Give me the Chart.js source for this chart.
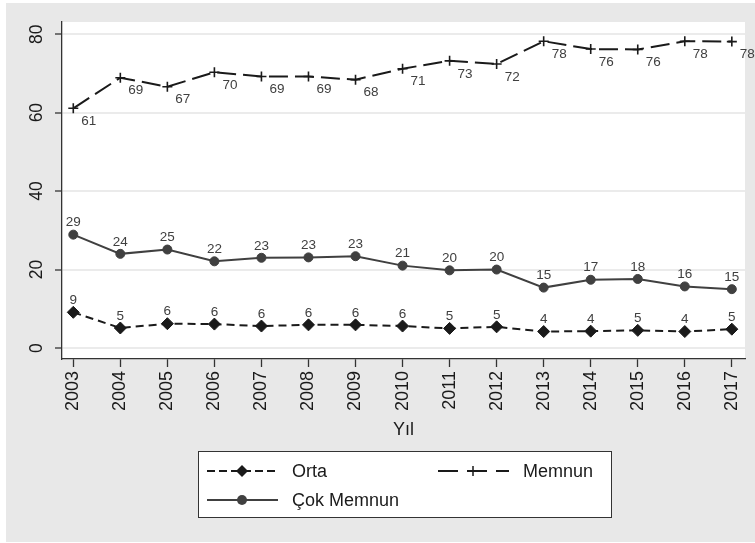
<!DOCTYPE html>
<html>
<head>
<meta charset="utf-8">
<script src="https://cdn.jsdelivr.net/npm/chart.js@4/dist/chart.umd.min.js"></script>
<style>
  body { margin: 0; background: #ffffff; }
  canvas { display: block; }
</style>
</head>
<body>
<canvas id="grafico" width="755" height="543"></canvas>
<script>
// Datos
const anios = [2003, 2004, 2005, 2006, 2007, 2008, 2009, 2010, 2011, 2012, 2013, 2014, 2015, 2016, 2017];
const orta = [9.1, 5.1, 6.2, 6.1, 5.6, 5.9, 5.9, 5.6, 5.0, 5.4, 4.2, 4.3, 4.5, 4.2, 4.8];
const cokMemnun = [28.9, 24.0, 25.1, 22.1, 23.0, 23.1, 23.4, 21.0, 19.8, 20.0, 15.4, 17.4, 17.6, 15.7, 15.0];
const memnun = [61.1, 68.9, 66.6, 70.3, 69.2, 69.2, 68.4, 71.2, 73.2, 72.4, 78.2, 76.2, 76.1, 78.2, 78.1];
const yTicks = [0, 20, 40, 60, 80];

const fuente = '"Liberation Sans", Arial, sans-serif';
const gris = '#e8e8e8';

function puntos(valores) {
    return valores.map((v, i) => ({ x: anios[i], y: v }));
}

// Fondo gris y área blanca
const fondoPlugin = {
    id: 'fondo',
    beforeDraw(chart) {
        const { ctx, chartArea } = chart;
        ctx.save();
        ctx.fillStyle = '#ffffff';
        ctx.fillRect(0, 0, chart.width, chart.height);
        ctx.fillStyle = gris;
        ctx.fillRect(6, 3, chart.width - 6, chart.height - 4);
        ctx.fillStyle = '#ffffff';
        ctx.fillRect(chartArea.left, chartArea.top, chartArea.right - chartArea.left, chartArea.bottom - chartArea.top);
        ctx.restore();
    }
};

// Etiquetas de valores junto a cada punto
const etiquetasPlugin = {
    id: 'etiquetas',
    afterDatasetsDraw(chart) {
        const { ctx } = chart;
        ctx.save();
        ctx.font = '13.5px ' + fuente;
        ctx.fillStyle = '#404040';
        ctx.textAlign = 'center';
        ctx.textBaseline = 'middle';
        chart.data.datasets.forEach((ds, i) => {
            const meta = chart.getDatasetMeta(i);
            meta.data.forEach((pt, j) => {
                const texto = String(Math.round(ds.data[j].y));
                if (ds.etiquetaAbajo) {
                    ctx.fillText(texto, pt.x + 15.5, pt.y + 13);
                } else {
                    ctx.fillText(texto, pt.x, pt.y - 12);
                }
            });
        });
        ctx.restore();
    }
};

function marcador(ctx, tipo, x, y, color) {
    ctx.save();
    ctx.setLineDash([]);
    ctx.fillStyle = color;
    ctx.strokeStyle = color;
    ctx.beginPath();
    if (tipo === 'rectRot') {
        ctx.moveTo(x, y - 6); ctx.lineTo(x + 6, y); ctx.lineTo(x, y + 6); ctx.lineTo(x - 6, y);
        ctx.closePath(); ctx.fill();
    } else if (tipo === 'circle') {
        ctx.arc(x, y, 5, 0, Math.PI * 2); ctx.fill();
    } else {
        ctx.lineWidth = 1.5;
        ctx.moveTo(x - 5, y); ctx.lineTo(x + 5, y);
        ctx.moveTo(x, y - 5); ctx.lineTo(x, y + 5);
        ctx.stroke();
    }
    ctx.restore();
}

// Leyenda con caja al pie
const leyendaPlugin = {
    id: 'leyenda',
    afterDraw(chart) {
        const { ctx } = chart;
        const caja = { x: 198, y: 451, w: 413, h: 66 };
        ctx.save();
        ctx.fillStyle = '#ffffff';
        ctx.fillRect(caja.x, caja.y, caja.w, caja.h);
        ctx.strokeStyle = '#333333';
        ctx.lineWidth = 1;
        ctx.strokeRect(caja.x + 0.5, caja.y + 0.5, caja.w, caja.h);
        const items = [
            { ds: chart.data.datasets[0], x: 207, y: 471, dash: [8, 4] },
            { ds: chart.data.datasets[2], x: 438, y: 471, dash: [20, 9] },
            { ds: chart.data.datasets[1], x: 207, y: 500, dash: [] }
        ];
        items.forEach(it => {
            ctx.save();
            ctx.strokeStyle = it.ds.borderColor;
            ctx.lineWidth = 1.8;
            ctx.setLineDash(it.dash);
            ctx.beginPath();
            ctx.moveTo(it.x, it.y);
            ctx.lineTo(it.x + 71, it.y);
            ctx.stroke();
            ctx.restore();
            marcador(ctx, it.ds.pointStyle, it.x + 35, it.y, it.ds.pointBackgroundColor);
            ctx.fillStyle = '#1a1a1a';
            ctx.font = '18px ' + fuente;
            ctx.textAlign = 'left';
            ctx.textBaseline = 'middle';
            ctx.fillText(it.ds.label, it.x + 85, it.y + 1);
        });
        ctx.restore();
    }
};

const config = {
    type: 'line',
    data: {
        datasets: [
            {
                label: 'Orta',
                data: puntos(orta),
                borderColor: '#1a1a1a',
                backgroundColor: '#1a1a1a',
                pointBackgroundColor: '#1a1a1a',
                pointBorderColor: '#1a1a1a',
                borderWidth: 2,
                borderDash: [8, 5],
                pointStyle: 'rectRot',
                pointRadius: 6,
                pointBorderWidth: 1
            },
            {
                label: 'Çok Memnun',
                data: puntos(cokMemnun),
                borderColor: '#404040',
                backgroundColor: '#404040',
                pointBackgroundColor: '#404040',
                pointBorderColor: '#404040',
                borderWidth: 2,
                pointStyle: 'circle',
                pointRadius: 4.5,
                pointBorderWidth: 1
            },
            {
                label: 'Memnun',
                data: puntos(memnun),
                borderColor: '#1a1a1a',
                backgroundColor: '#1a1a1a',
                pointBackgroundColor: '#1a1a1a',
                pointBorderColor: '#1a1a1a',
                borderWidth: 2,
                borderDash: [19, 7],
                pointStyle: 'cross',
                pointRadius: 5,
                pointBorderWidth: 1.6,
                etiquetaAbajo: true
            }
        ]
    },
    options: {
        responsive: false,
        animation: false,
        devicePixelRatio: 1,
        layout: { padding: { top: 22, right: 10, left: 0, bottom: 102 } },
        plugins: {
            legend: { display: false },
            tooltip: { enabled: false }
        },
        scales: {
            x: {
                type: 'linear',
                min: 2002.76,
                max: 2017.28,
                afterBuildTicks: scale => { scale.ticks = anios.map(v => ({ value: v })); },
                afterFit: scale => {
                    scale.height = 82;
                    scale.paddingLeft = 0;
                    scale.paddingRight = 0;
                },
                border: { display: true, color: '#333333', width: 1.3 },
                grid: { drawOnChartArea: false, drawTicks: true, tickLength: 8, tickColor: '#333333', tickWidth: 1.3 },
                ticks: {
                    minRotation: 90,
                    maxRotation: 90,
                    padding: 4,
                    color: '#1a1a1a',
                    font: { family: fuente, size: 18 },
                    callback: v => String(v)
                },
                title: {
                    display: true,
                    text: 'Yıl',
                    color: '#1a1a1a',
                    font: { family: fuente, size: 18 },
                    padding: { top: 0, bottom: 0 }
                }
            },
            y: {
                min: -2.8,
                max: 83.1,
                afterBuildTicks: scale => { scale.ticks = yTicks.map(v => ({ value: v })); },
                afterFit: scale => {
                    scale.width = 62;
                    scale.paddingTop = 0;
                    scale.paddingBottom = 0;
                },
                border: { display: true, color: '#333333', width: 1.3 },
                grid: { color: '#ebebeb', lineWidth: 2, drawTicks: true, tickLength: 7, tickColor: '#333333', tickWidth: 1.3 },
                ticks: {
                    minRotation: 90,
                    maxRotation: 90,
                    crossAlign: 'center',
                    padding: 8,
                    color: '#1a1a1a',
                    font: { family: fuente, size: 17.5 },
                    callback: v => String(v)
                }
            }
        }
    },
    plugins: [fondoPlugin, etiquetasPlugin, leyendaPlugin]
};

const grafico = new Chart(document.getElementById('grafico'), config);
</script>
</body>
</html>
